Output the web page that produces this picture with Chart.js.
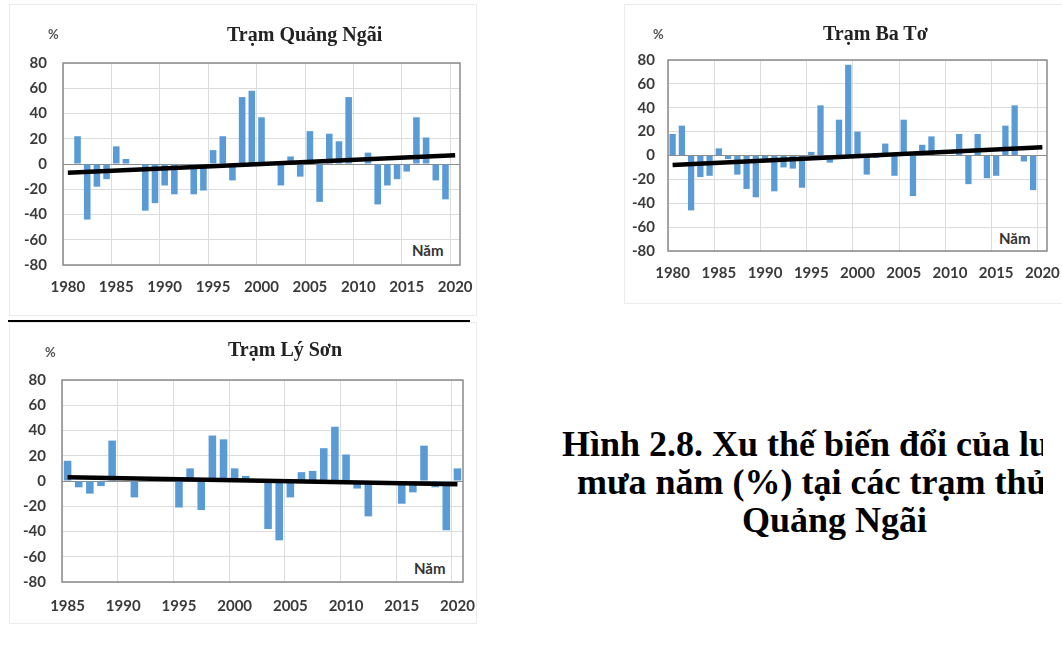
<!DOCTYPE html>
<html lang="vi">
<head>
<meta charset="utf-8">
<title>Hình 2.8</title>
<script src="https://cdn.jsdelivr.net/npm/chart.js@4.4.0/dist/chart.umd.min.js"></script>
<style>
  html, body { margin: 0; padding: 0; background: #fff; }
  body { width: 1062px; height: 646px; position: relative; overflow: hidden; }
  .box { position: absolute; }
  .box canvas { position: absolute; left: 0; top: 0; }
  .frame { position: absolute; border: 1px solid #ebebeb; box-sizing: border-box; }
  .title { position: absolute; font: bold 20px "Liberation Serif", serif; line-height: 24px; color: #222; white-space: nowrap; }
  .unit { position: absolute; font: bold 13px Lato, sans-serif; line-height: 14px; color: #555; }
  .nam { position: absolute; background: #fff; font: bold 15px Lato, sans-serif; line-height: 16px; padding: 2px 4px; color: #333; }
  .capclip { position: absolute; left: 520px; top: 400px; width: 523px; height: 180px; overflow: hidden; }
  .cap { position: absolute; font: bold 36px "Liberation Serif", serif; line-height: 40px; color: #000; white-space: nowrap; }
  .rule { position: absolute; left: 8px; top: 320px; width: 462px; height: 2px; background: #000; }
</style>
</head>
<body>

<div class="frame" style="left:9px;top:4px;width:468px;height:312px"></div>
<div class="frame" style="left:624px;top:4px;width:440px;height:300px"></div>
<div class="frame" style="left:9px;top:322px;width:468px;height:302px"></div>
<div class="rule"></div>

<div class="box" style="left:0;top:0;width:482px;height:300px"><canvas id="qn" width="482" height="300"></canvas></div>
<div class="box" style="left:600px;top:0;width:462px;height:310px"><canvas id="bt" width="462" height="310"></canvas></div>
<div class="box" style="left:0;top:310px;width:482px;height:316px"><canvas id="ls" width="482" height="316"></canvas></div>

<div class="title" style="left:227px;top:22px">Trạm Quảng Ngãi</div>
<div class="title" style="left:823px;top:21px">Trạm Ba Tơ</div>
<div class="title" style="left:228px;top:337px">Trạm Lý Sơn</div>

<div class="unit" style="left:48px;top:27px">%</div>
<div class="unit" style="left:653px;top:27px">%</div>
<div class="unit" style="left:45px;top:345px">%</div>

<div class="nam" style="left:408px;top:240px">Năm</div>
<div class="nam" style="left:995px;top:228px">Năm</div>
<div class="nam" style="left:410px;top:558px">Năm</div>

<div class="capclip">
  <div class="cap" style="left:42px;top:24px">Hình 2.8. Xu thế biến đổi của lượng</div>
  <div class="cap" style="left:57px;top:62px">mưa năm (%) tại các trạm thủy văn</div>
  <div class="cap" style="left:222px;top:100px">Quảng Ngãi</div>
</div>

<script>
// --- Categories ---
const yearsLong = [1980, 1981, 1982, 1983, 1984, 1985, 1986, 1987, 1988, 1989,
                   1990, 1991, 1992, 1993, 1994, 1995, 1996, 1997, 1998, 1999,
                   2000, 2001, 2002, 2003, 2004, 2005, 2006, 2007, 2008, 2009,
                   2010, 2011, 2012, 2013, 2014, 2015, 2016, 2017, 2018, 2019, 2020];
const yearsLySon = [1985, 1986, 1987, 1988, 1989, 1990, 1991, 1992, 1993, 1994,
                    1995, 1996, 1997, 1998, 1999, 2000, 2001, 2002, 2003, 2004,
                    2005, 2006, 2007, 2008, 2009, 2010, 2011, 2012, 2013, 2014,
                    2015, 2016, 2017, 2018, 2019, 2020];

// --- Anomaly of annual rainfall (%) ---
const quangNgai = [0, 22, -44, -18, -12, 14, 4, 0, -37, -31,
                   -17, -24, 0, -24, -21, 11, 22, -13, 53, 58,
                   37, 0, -17, 6, -10, 26, -30, 24, 18, 53,
                   0, 9, -32, -17, -12, -6, 37, 21, -13, -28, 0];
const baTo = [18, 25, -46, -18, -17, 6, -3, -16, -28, -35,
              -3, -30, -10, -11, -27, 3, 42, -6, 30, 76,
              20, -16, -2, 10, -17, 30, -34, 9, 16, 0,
              0, 18, -24, 18, -19, -17, 25, 42, -5, -29, 0];
const lySon = [16, -5, -10, -4, 32, 0, -13, 0, 0, 0,
               -21, 10, -23, 36, 33, 10, 4, 0, -38, -47,
               -13, 7, 8, 26, 43, 21, -6, -28, 0, 0,
               -18, -9, 28, -5, -39, 10];

// --- Trend line ends (first year, last year) ---
const trendQuangNgai = [-7, 7];
const trendBaTo = [-8, 7];
const trendLySon = [3, -2.5];

// --- Y axis ---
const yMin = -80, yMax = 80, yStep = 20;

const BAR_BLUE = '#5b9bd5';
const GRID = '#dcdcdc';

// frame round the plot area
const plotFrame = {
    id: 'plotFrame',
    afterDraw(chart) {
        const { ctx, chartArea: a } = chart;
        ctx.save();
        ctx.strokeStyle = '#8a8a8a';
        ctx.lineWidth = 1.5;
        ctx.strokeRect(a.left, a.top, a.right - a.left, a.bottom - a.top);
        ctx.restore();
    }
};

function makeChart(id, labels, values, trend, g) {
    const last = labels.length - 1;
    const trendData = labels.map((_, i) => (i === 0 ? trend[0] : i === last ? trend[1] : null));

    return new Chart(document.getElementById(id), {
        type: 'bar',
        data: {
            labels: labels,
            datasets: [
                {
                    type: 'line',
                    data: trendData,
                    spanGaps: true,
                    borderColor: '#000',
                    borderWidth: 4.5,
                    pointRadius: 0,
                    order: 0
                },
                {
                    data: values,
                    backgroundColor: BAR_BLUE,
                    barPercentage: 0.68,
                    categoryPercentage: 1,
                    order: 1
                }
            ]
        },
        options: {
            responsive: false,
            animation: false,
            layout: { padding: { left: 0, right: g.padRight, top: g.padTop, bottom: 0 } },
            plugins: { legend: { display: false }, tooltip: { enabled: false } },
            scales: {
                x: {
                    offset: true,
                    grid: {
                        offset: true,
                        drawTicks: false,
                        color: ctx => (ctx.index % 5 === 0 ? GRID : 'rgba(0,0,0,0)')
                    },
                    border: { display: false },
                    ticks: {
                        autoSkip: false,
                        maxRotation: 0,
                        padding: g.xPad,
                        color: '#3a3a3a',
                        font: { family: 'Lato', weight: 'bold', size: 15 },
                        callback: (v, i) => (i % 5 === 0 ? labels[i] : '')
                    },
                    afterFit(scale) {
                        scale.height = g.xHeight;
                        scale.paddingLeft = 0;
                        scale.paddingRight = 0;
                    }
                },
                y: {
                    min: yMin,
                    max: yMax,
                    grid: {
                        drawTicks: false,
                        color: ctx => (ctx.tick && ctx.tick.value === 0 ? '#8c8c8c' : GRID)
                    },
                    border: { display: false },
                    ticks: {
                        stepSize: yStep,
                        padding: g.yPad,
                        color: '#3a3a3a',
                        font: { family: 'Lato', weight: 'bold', size: 15 }
                    },
                    afterFit(scale) {
                        scale.width = g.yWidth;
                        scale.paddingTop = 0;
                        scale.paddingBottom = 0;
                    }
                }
            }
        },
        plugins: [plotFrame]
    });
}

makeChart('qn', yearsLong, quangNgai, trendQuangNgai,
    { padRight: 22, padTop: 63, xHeight: 35, yWidth: 63, xPad: 13, yPad: 16 });
makeChart('bt', yearsLong, baTo, trendBaTo,
    { padRight: 15, padTop: 60, xHeight: 59, yWidth: 68, xPad: 13, yPad: 13 });
makeChart('ls', yearsLySon, lySon, trendLySon,
    { padRight: 19, padTop: 70, xHeight: 44, yWidth: 62, xPad: 15, yPad: 16 });
</script>
</body>
</html>
